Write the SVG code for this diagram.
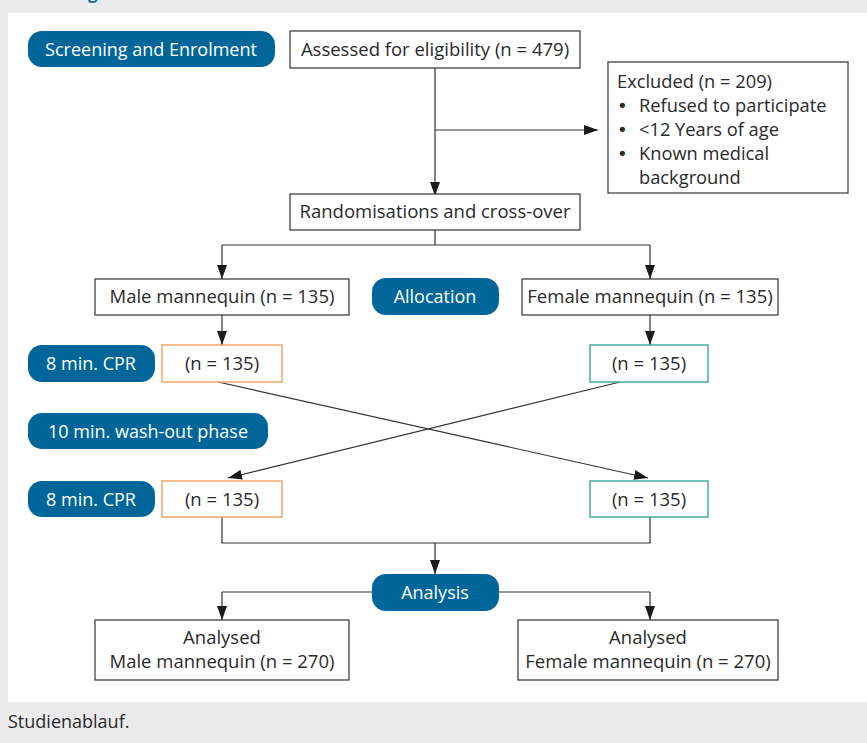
<svg xmlns="http://www.w3.org/2000/svg" width="867" height="743" viewBox="0 0 867 743">
<style>
.box{fill:#fff;stroke:#333;stroke-width:1.2}
.pill{fill:#006699}
.ptxt{fill:#fff;font-family:"Open Sans","Noto Sans",sans-serif;font-size:18px;text-anchor:middle}
.txt{fill:#2a2a2a;font-family:"Open Sans","Noto Sans",sans-serif;font-size:18.5px;text-anchor:middle}
.ltxt{fill:#2a2a2a;font-family:"Open Sans","Noto Sans",sans-serif;font-size:18.3px}
.bul{fill:#2a2a2a;font-family:"DejaVu Sans",sans-serif;font-size:18px}
.orange{fill:#fff;stroke:#f0a060;stroke-width:1.4}
.teal{fill:#fff;stroke:#3aa597;stroke-width:1.4}
.ln{fill:none;stroke:#333;stroke-width:1.2}
</style>
<defs>
<marker id="ah" viewBox="0 0 14 10" refX="14" refY="5" markerWidth="14" markerHeight="10" markerUnits="userSpaceOnUse" orient="auto">
<path d="M0,0 L14,5 L0,10 Z" fill="#1a1a1a"/>
</marker>
</defs>
<rect x="0" y="0" width="867" height="743" fill="#ebebeb"/>
<rect x="8" y="13" width="859" height="689" fill="#fff"/>
<text x="88" y="-1" fill="#1a6a9a" font-family="'Open Sans',sans-serif" font-size="17" font-weight="bold">g</text>

<g id="connectors">
<path class="ln" d="M435,68 V196" marker-end="url(#ah)"/>
<path class="ln" d="M435,130 H598" marker-end="url(#ah)"/>
<path class="ln" d="M435,230 V245 M222,245 H650"/>
<path class="ln" d="M222,245 V279" marker-end="url(#ah)"/>
<path class="ln" d="M650,245 V279" marker-end="url(#ah)"/>
<path class="ln" d="M222,315 V345" marker-end="url(#ah)"/>
<path class="ln" d="M650,315 V345" marker-end="url(#ah)"/>
<path class="ln" d="M218,382 L648,478" marker-end="url(#ah)"/>
<path class="ln" d="M620,382 L228,478" marker-end="url(#ah)"/>
<path class="ln" d="M222,517 V543 H650 V517"/>
<path class="ln" d="M435,543 V574" marker-end="url(#ah)"/>
<path class="ln" d="M372,592 H222 M499,592 H650"/>
<path class="ln" d="M222,592 V620" marker-end="url(#ah)"/>
<path class="ln" d="M650,592 V620" marker-end="url(#ah)"/>
</g>

<g id="screening"><rect class="pill" x="28" y="31" width="247" height="36" rx="14"/><text class="ptxt" x="151" y="56">Screening and Enrolment</text></g>
<g id="assessed"><rect class="box" x="290" y="31" width="290" height="37"/><text class="txt" x="435" y="56">Assessed for eligibility (n = 479)</text></g>
<g id="excluded"><rect class="box" x="608" y="62" width="240" height="131"/>
<text class="ltxt" x="617" y="88">Excluded (n = 209)</text>
<text class="bul" x="617" y="112">•</text><text class="ltxt" x="639" y="112">Refused to participate</text>
<text class="bul" x="617" y="136">•</text><text class="ltxt" x="639" y="136">&lt;12 Years of age</text>
<text class="bul" x="617" y="160">•</text><text class="ltxt" x="639" y="160">Known medical</text>
<text class="ltxt" x="639" y="184">background</text>
</g>
<g id="randomisation"><rect class="box" x="290" y="194" width="290" height="36"/><text class="txt" x="435" y="218">Randomisations and cross-over</text></g>
<g id="male"><rect class="box" x="95" y="279" width="254" height="36"/><text class="txt" x="222" y="303">Male mannequin (n = 135)</text></g>
<g id="allocation"><rect class="pill" x="372" y="278" width="127" height="37" rx="14"/><text class="ptxt" x="435" y="303">Allocation</text></g>
<g id="female"><rect class="box" x="522" y="279" width="256" height="36"/><text class="txt" x="650" y="303">Female mannequin (n = 135)</text></g>

<g id="cpr1"><rect class="pill" x="28" y="345" width="127" height="37" rx="14"/><text class="ptxt" x="91" y="370">8 min. CPR</text></g>
<g id="m1"><rect class="orange" x="162" y="345" width="120" height="37"/><text class="txt" x="222" y="370">(n = 135)</text></g>
<g id="f1"><rect class="teal" x="590" y="345" width="118" height="37"/><text class="txt" x="649" y="370">(n = 135)</text></g>
<g id="washout"><rect class="pill" x="28" y="413" width="240" height="36" rx="14"/><text class="ptxt" x="148" y="438">10 min. wash-out phase</text></g>
<g id="cpr2"><rect class="pill" x="28" y="481" width="127" height="36" rx="14"/><text class="ptxt" x="91" y="506">8 min. CPR</text></g>
<g id="m2"><rect class="orange" x="162" y="481" width="120" height="36"/><text class="txt" x="222" y="506">(n = 135)</text></g>
<g id="f2"><rect class="teal" x="590" y="481" width="118" height="36"/><text class="txt" x="649" y="506">(n = 135)</text></g>
<g id="analysis"><rect class="pill" x="372" y="574" width="127" height="37" rx="14"/><text class="ptxt" x="435" y="599">Analysis</text></g>
<g id="amale"><rect class="box" x="95" y="620" width="254" height="60"/><text class="txt" x="222" y="644">Analysed</text><text class="txt" x="222" y="668">Male mannequin (n = 270)</text></g>
<g id="afemale"><rect class="box" x="518" y="620" width="260" height="60"/><text class="txt" x="648" y="644">Analysed</text><text class="txt" x="648" y="668">Female mannequin (n = 270)</text></g>
<text x="8" y="728" fill="#2a2a2a" font-family="'Open Sans',sans-serif" font-size="18">Studienablauf.</text>
</svg>
